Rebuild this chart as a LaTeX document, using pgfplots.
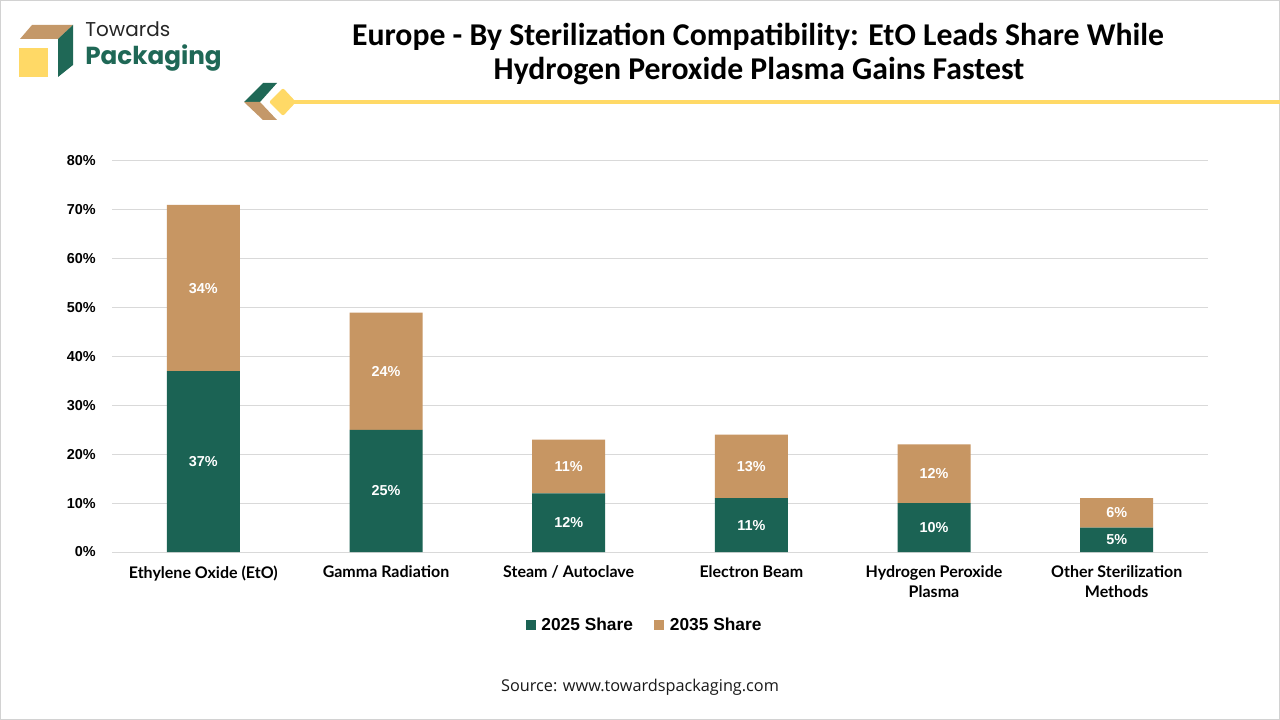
\documentclass[border=0pt]{standalone}
\usepackage{fontspec}
\usepackage{pgfplots}
\pgfplotsset{compat=1.18}
\setmainfont{Liberation Sans}
\newfontfamily\titlefont{Carlito}
\newfontfamily\logofont{Poppins}
\newfontfamily\catfont{Lato}
\newfontfamily\srcfont{Open Sans}
\definecolor{bargreen}{RGB}{27,99,84}
\definecolor{bartan}{RGB}{199,150,99}
\definecolor{logogreen}{RGB}{31,104,86}
\definecolor{logotan}{RGB}{196,152,105}
\definecolor{logoyellow}{RGB}{255,217,102}
\definecolor{gridgray}{RGB}{217,217,217}
\pgfplotsset{sqlegend/.style={legend image code/.code={\fill[##1,draw=none] (0pt,-3.75pt) rectangle (7.5pt,3.75pt);}}}
\begin{document}
\begin{tikzpicture}
\begin{scope}[x=0.75pt,y=-0.75pt]
\path[use as bounding box] (0,0) rectangle (1280,720);
\draw[fill=white,draw=gray!35,line width=0.75pt] (0.5,0.5) rectangle (1279.5,719.5);
% logo
\fill[logotan] (32,25) -- (73,25) -- (58,39) -- (20,39) -- cycle;
\fill[logogreen] (58,39) -- (73,25) -- (73,65) -- (58,77) -- cycle;
\fill[logoyellow] (19,48) rectangle (48,77);
\node[anchor=base west,font=\logofont\fontsize{15}{18}\selectfont,text=black!85,inner sep=0] at (85,37) {Towards};
\node[anchor=base west,font=\logofont\bfseries\fontsize{18.5}{20}\selectfont,text=logogreen,inner sep=0] at (85,65) {Packaging};
% decoration
\draw[logoyellow,line width=3pt] (285,102) -- (1280,102);
\fill[logogreen] (244,102) -- (263,83) -- (277,83) -- (260,102) -- cycle;
\fill[logotan] (244,102) -- (260,102) -- (277,120) -- (263,120) -- cycle;
\fill[logoyellow,rounded corners=1.5pt] (269,102) -- (283,88) -- (296,102) -- (283,116) -- cycle;
% title
\node[anchor=base,font=\titlefont\bfseries\fontsize{23.8}{28}\selectfont,inner sep=0] at (758,46) {Europe - By Sterilization Compatibility: EtO Leads Share While};
\node[anchor=base,font=\titlefont\bfseries\fontsize{23.8}{28}\selectfont,inner sep=0] at (759,80) {Hydrogen Peroxide Plasma Gains Fastest};
% source
\node[anchor=base,font=\srcfont\fontsize{12.2}{14}\selectfont,inner sep=0,text=black!90] at (640,691) {Source: www.towardspackaging.com};
\end{scope}
\begin{axis}[
  at={(84pt,-414pt)}, anchor=south west,
  scale only axis, width=822pt, height=293.25pt,
  xmin=-0.5, xmax=5.5, ymin=0, ymax=80,
  ybar stacked, bar width=54.75pt,
  axis line style={draw=none},
  tick style={draw=none},
  ymajorgrids, grid style={gridgray,line width=0.75pt},
  ytick={0,10,...,80},
  /pgf/number format/assume math mode=true,
  yticklabel={\pgfmathprintnumber{\tick}\%},
  yticklabel style={font=\bfseries\fontsize{10.8}{12}\selectfont,anchor=east,inner sep=0pt,xshift=-12pt},
  xtick={0,1,2,3,4,5},
  xticklabels={Ethylene Oxide (EtO),Gamma Radiation,Steam / Autoclave,Electron Beam,Hydrogen Peroxide\\Plasma,Other Sterilization\\Methods},
  xticklabel style={font=\catfont\bfseries\fontsize{12}{15}\selectfont,align=center,anchor=north,inner sep=0pt,yshift=-10pt},
  legend columns=2,
  legend style={at={(0.4863,-0.1867)},anchor=center,draw=none,fill=none,
    font=\bfseries\fontsize{13}{15}\selectfont,
    /tikz/every even column/.append style={column sep=14pt}},
  nodes near coords={\pgfmathprintnumber{\pgfplotspointmeta}\%},
  point meta=rawy,
  every node near coord/.append style={anchor=center,text=white,
    font=\bfseries\fontsize{10.8}{12}\selectfont},
]
\addplot[fill=bargreen,draw=none,sqlegend] coordinates {(0,37) (1,25) (2,12) (3,11) (4,10) (5,5)};
\addplot[fill=bartan,draw=none,sqlegend] coordinates {(0,34) (1,24) (2,11) (3,13) (4,12) (5,6)};
\legend{\hspace{2.2pt}2025 Share,\hspace{2.2pt}2035 Share}
\end{axis}
\end{tikzpicture}
\end{document}
